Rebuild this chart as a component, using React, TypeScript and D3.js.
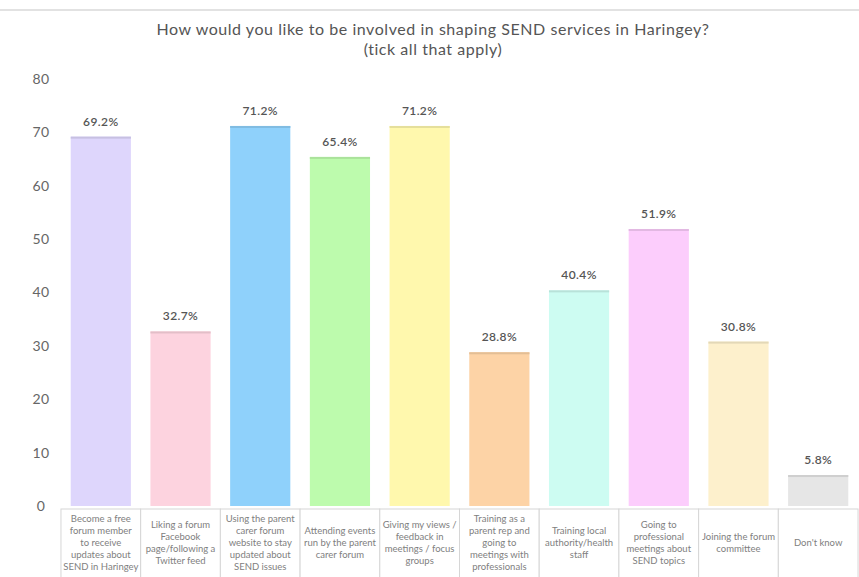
import { useEffect, useRef } from 'react';
import * as d3 from 'd3';

const categories = [
  ['Become a free', 'forum member', 'to receive', 'updates about', 'SEND in Haringey'],
  ['Liking a forum', 'Facebook', 'page/following a', 'Twitter feed'],
  ['Using the parent', 'carer forum', 'website to stay', 'updated about', 'SEND issues'],
  ['Attending events', 'run by the parent', 'carer forum'],
  ['Giving my views /', 'feedback in', 'meetings / focus', 'groups'],
  ['Training as a', 'parent rep and', 'going to', 'meetings with', 'professionals'],
  ['Training local', 'authority/health', 'staff'],
  ['Going to', 'professional', 'meetings about', 'SEND topics'],
  ['Joining the forum', 'committee'],
  ["Don't know"],
];
const values = [69.2, 32.7, 71.2, 65.4, 71.2, 28.8, 40.4, 51.9, 30.8, 5.8];
const barColors = [
  '#ded6fc', '#fdd3df', '#8fd1fb', '#bdfbad', '#fff8ad',
  '#fdd3a6', '#cdfcf2', '#fccdfc', '#fdf0cc', '#e6e6e6',
];
const yTicks = [0, 10, 20, 30, 40, 50, 60, 70, 80];

const W = 859;
const H = 577;
const FONT = 'Lato, "Open Sans", sans-serif';

const App = () => {
  const svgRef = useRef<SVGSVGElement>(null);

  useEffect(() => {
    if (!svgRef.current) return;
    const svg = d3.select(svgRef.current);
    svg.selectAll('*').remove();

    const x = d3
      .scaleBand<number>()
      .domain(values.map((_, i) => i))
      .range([61, 858])
      .paddingInner(0.245)
      .paddingOuter(0.122);
    const y = d3.scaleLinear().domain([0, 80]).range([506, 79]);

    svg.append('rect').attr('width', W).attr('height', H).attr('fill', '#fff');

    // thin rule at the top
    svg.append('line')
      .attr('x1', 0).attr('x2', W).attr('y1', 10).attr('y2', 10)
      .attr('stroke', '#d8d8d8').attr('stroke-width', 1.5);

    // title
    const title = svg.append('text')
      .attr('x', 433).attr('y', 35)
      .attr('text-anchor', 'middle')
      .attr('font-family', FONT).attr('font-size', 16).attr('letter-spacing', 0.55)
      .attr('fill', '#555');
    title.append('tspan').attr('x', 433).text('How would you like to be involved in shaping SEND services in Haringey?');
    title.append('tspan').attr('x', 433).attr('dy', 20).text('(tick all that apply)');

    // y tick labels
    svg.append('g')
      .selectAll('text')
      .data(yTicks)
      .join('text')
      .attr('x', 41)
      .attr('y', (d) => y(d))
      .attr('dy', '0.35em')
      .attr('text-anchor', 'middle')
      .attr('font-family', FONT).attr('font-size', 14).attr('letter-spacing', 0.5)
      .attr('fill', '#666')
      .text((d) => d);

    // bars
    const bars = svg.append('g')
      .selectAll('g')
      .data(values)
      .join('g');

    bars.append('rect')
      .attr('x', (_, i) => x(i)!)
      .attr('y', (d) => y(d))
      .attr('width', x.bandwidth())
      .attr('height', (d) => y(0) - y(d))
      .attr('fill', (_, i) => barColors[i]);

    bars.append('rect')
      .attr('x', (_, i) => x(i)!)
      .attr('y', (d) => y(d))
      .attr('width', x.bandwidth())
      .attr('height', 2)
      .attr('fill', (_, i) => d3.color(barColors[i])!.darker(0.3).toString());

    bars.append('text')
      .attr('x', (_, i) => x(i)! + x.bandwidth() / 2)
      .attr('y', (d) => y(d) - 11)
      .attr('text-anchor', 'middle')
      .attr('font-family', FONT).attr('font-size', 12).attr('font-weight', 600)
      .attr('letter-spacing', 0.4)
      .attr('fill', '#555')
      .text((d) => `${d.toFixed(1)}%`);

    // category label boxes
    const step = x.step();
    const boxes = svg.append('g')
      .selectAll('g')
      .data(categories)
      .join('g')
      .attr('transform', (_, i) => `translate(${x(i)! + x.bandwidth() / 2 - step / 2},509)`);

    boxes.append('rect')
      .attr('width', step)
      .attr('height', 72)
      .attr('fill', '#fff')
      .attr('stroke', '#d6d6d6')
      .attr('stroke-width', 1);

    boxes.append('text')
      .attr('text-anchor', 'middle')
      .attr('font-family', FONT).attr('font-size', 9.5).attr('fill', '#808080')
      .each(function (lines) {
        const t = d3.select(this);
        const lh = 12;
        const start = 34 - ((lines.length - 1) * lh) / 2;
        lines.forEach((ln, j) => {
          t.append('tspan')
            .attr('x', step / 2)
            .attr('y', start + j * lh)
            .attr('dy', '0.35em')
            .text(ln);
        });
      });
  }, []);

  return (
    <div style={{ position: 'fixed', left: 0, top: 0 }}>
      <svg ref={svgRef} width={W} height={H} style={{ display: 'block' }} />
    </div>
  );
};

export default App;
